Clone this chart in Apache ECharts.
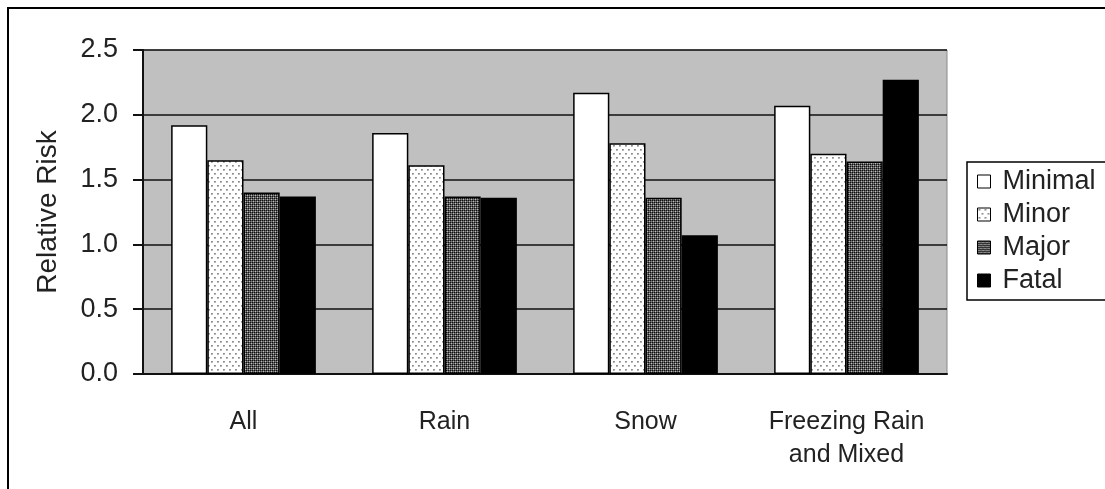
<!DOCTYPE html>
<html>
<head>
<meta charset="utf-8">
<script src="https://cdn.jsdelivr.net/npm/echarts@6/dist/echarts.min.js"></script>
<style>
html,body{margin:0;padding:0;background:#fff;}
#chart{width:1105px;height:489px;}
</style>
</head>
<body>
<div id="chart"></div>
<script>
const categories = ['All', 'Rain', 'Snow', 'Freezing Rain\nand Mixed'];
const seriesNames = ['Minimal', 'Minor', 'Major', 'Fatal'];
const minimal = [1.92, 1.86, 2.17, 2.07];
const minor = [1.65, 1.61, 1.78, 1.70];
const major = [1.40, 1.37, 1.36, 1.64];
const fatal = [1.37, 1.36, 1.07, 2.27];
const yTicks = [0, 0.5, 1.0, 1.5, 2.0, 2.5];

function tile(w, h, draw) {
  const c = document.createElement('canvas');
  c.width = w; c.height = h;
  const g = c.getContext('2d');
  draw(g);
  return { image: c, repeat: 'repeat' };
}
function px(g, x, y, col) { g.fillStyle = col; g.fillRect(x, y, 1, 1); }

const minorPattern = tile(6, 8, g => {
  g.fillStyle = '#ffffff'; g.fillRect(0, 0, 6, 8);
  [[1, 1], [4, 5]].forEach(([x, y]) => {
    px(g, x, y, '#8c8c8c'); px(g, x + 1, y, '#9a9a9a');
    px(g, x, y + 1, '#b0b0b0'); px(g, x + 1, y + 1, '#c4c4c4');
  });
});
const majorPattern = tile(4, 4, g => {
  const K = '#101010', G = '#585858', W = '#bdbdbd', L = '#888888';
  const m = [[K, G, K, G], [G, W, G, L], [K, G, K, G], [G, L, G, W]];
  for (let y = 0; y < 4; y++) for (let x = 0; x < 4; x++) px(g, x, y, m[y][x]);
});

const fills = ['#ffffff', minorPattern, majorPattern, '#000000'];
const values = [minimal, minor, major, fatal];
const FONT = 'Arial, "Liberation Sans", sans-serif';

const chart = echarts.init(document.getElementById('chart'), null, { renderer: 'canvas' });
chart.setOption({
  animation: false,
  backgroundColor: '#ffffff',
  graphic: [{
    type: 'rect', z: -10, silent: true,
    shape: { x: 8, y: 8, width: 1200, height: 600 },
    style: { fill: 'none', stroke: '#000', lineWidth: 2 }
  }],
  grid: {
    left: 143, right: 158, top: 50, bottom: 115,
    show: true, backgroundColor: '#c0c0c0', borderColor: '#8a8a8a', borderWidth: 1
  },
  legend: {
    orient: 'vertical', left: 967, top: 162,
    data: seriesNames,
    icon: 'rect',
    backgroundColor: '#ffffff', borderColor: '#000', borderWidth: 1.5,
    padding: [6, 30, 6, 10],
    itemWidth: 13, itemHeight: 13, itemGap: 6,
    textStyle: { fontFamily: FONT, fontSize: 27, color: '#222', padding: [0, 0, 0, 7] },
    itemStyle: { borderColor: '#000', borderWidth: 1 }
  },
  xAxis: {
    type: 'category', data: categories,
    axisLine: { lineStyle: { color: '#111', width: 2 } },
    axisTick: { show: false },
    axisLabel: { fontFamily: FONT, fontSize: 25, color: '#222', lineHeight: 33, margin: 32, interval: 0 }
  },
  yAxis: {
    type: 'value', min: yTicks[0], max: yTicks[yTicks.length - 1], interval: 0.5,
    name: 'Relative Risk', nameLocation: 'middle', nameGap: 81,
    nameTextStyle: { fontFamily: FONT, fontSize: 28, color: '#222' },
    axisLine: { show: true, lineStyle: { color: '#111', width: 2 } },
    axisTick: { show: true, length: 10, lineStyle: { color: '#111', width: 2 } },
    axisLabel: { fontFamily: FONT, fontSize: 27, color: '#222', margin: 25, formatter: v => v.toFixed(1) },
    splitLine: { show: true, lineStyle: { color: '#111', width: 1.5 } }
  },
  series: seriesNames.map((n, i) => ({
    name: n, type: 'bar', data: values[i],
    barGap: '0%', barCategoryGap: '28%',
    itemStyle: { color: fills[i], borderColor: '#000', borderWidth: 1.5 }
  }))
});
</script>
</body>
</html>
